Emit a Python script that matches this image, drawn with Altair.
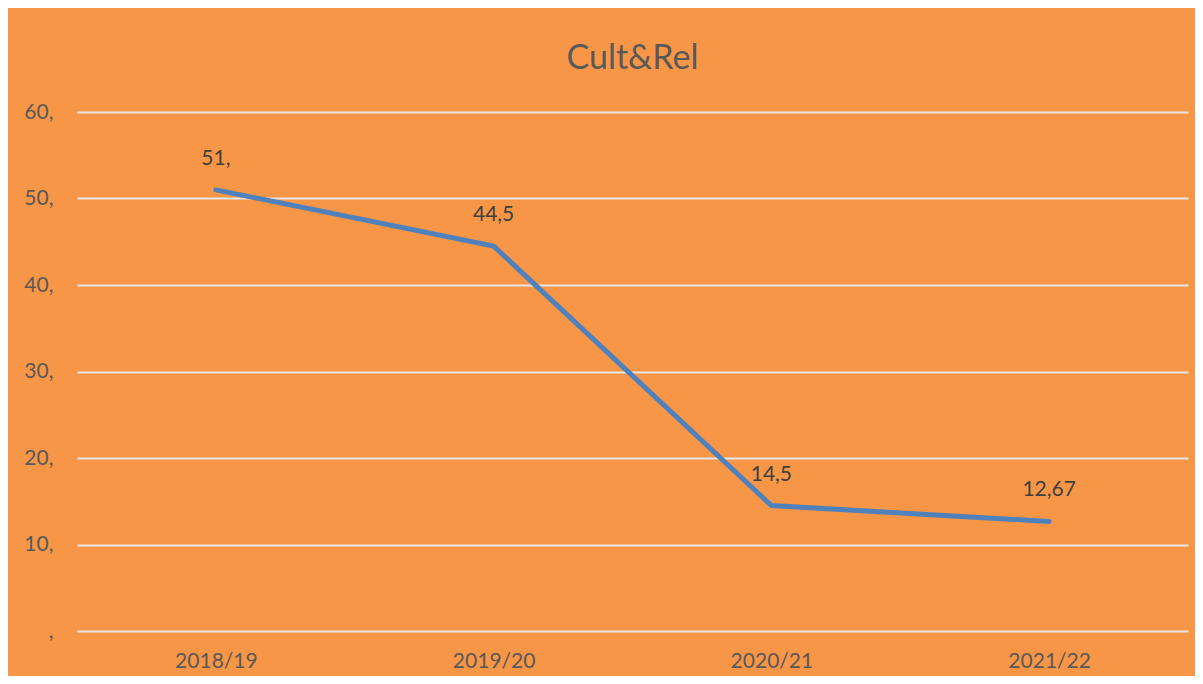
import altair as alt
import pandas as pd

years = ["2018/19", "2019/20", "2020/21", "2021/22"]
values = [51.0, 44.5, 14.5, 12.67]
y_ticks = [0, 10, 20, 30, 40, 50, 60]


def lab(v):
    s = f"{v:g}".replace(".", ",")
    return s if "," in s else s + ","


df = pd.DataFrame({"year": years, "value": values, "label": [lab(v) for v in values]})

x = alt.X("year:N", sort=years, title=None,
          scale=alt.Scale(paddingOuter=0.5, paddingInner=0),
          axis=alt.Axis(labelAngle=0, domain=False, ticks=False, labelPadding=19,
                        labelFontSize=21, labelColor="#595959", labelFont="Lato", grid=False))
y = alt.Y("value:Q", title=None,
          scale=alt.Scale(domain=[0, 60], nice=False),
          axis=alt.Axis(values=y_ticks, domain=False, ticks=False, labelPadding=24,
                        labelFontSize=21, labelColor="#595959", labelFont="Lato",
                        gridColor="#E6E6E6", gridWidth=2,
                        labelExpr="datum.value == 0 ? ',' : datum.value + ','"))

line = alt.Chart(df).mark_line(color="#4F81BD", strokeWidth=5, strokeCap="round").encode(x=x, y=y)
text = alt.Chart(df).mark_text(dy=-31, fontSize=21, color="#404040", font="Lato").encode(
    x=x, y=y, text="label:N")

chart = (line + text).properties(
    width=1111, height=519,
    autosize=alt.AutoSizeParams(type="none"),
    padding={"left": 69, "top": 104, "right": 7, "bottom": 45},
    background="#F79646",
    title=alt.TitleParams("Cult&Rel", fontSize=34, font="Lato", fontWeight="normal",
                          color="#595959", offset=25, anchor="middle"),
).configure_view(stroke=None)

chart.save("out.html", embed_options={"renderer": "svg", "actions": False})
